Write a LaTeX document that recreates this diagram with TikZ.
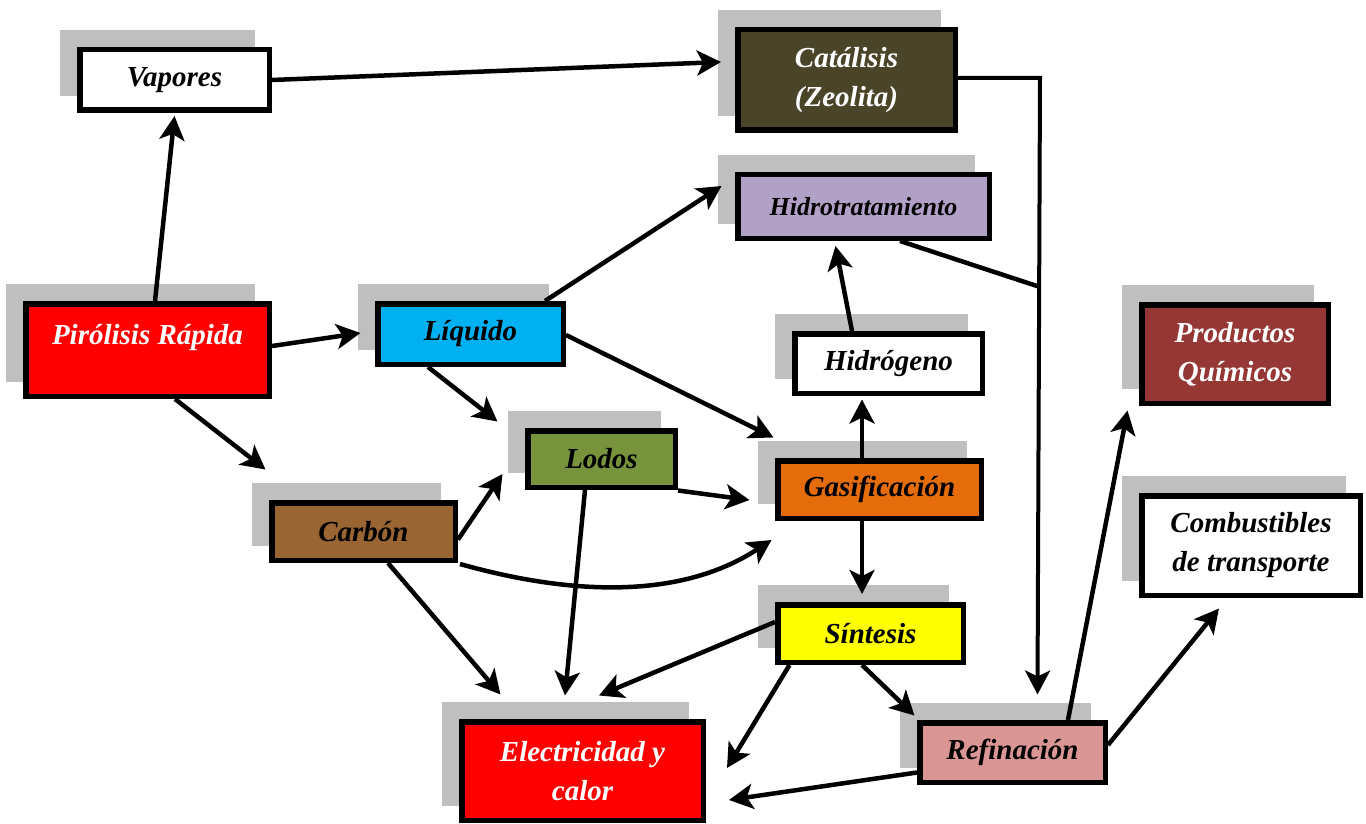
\documentclass[tikz,border=0pt]{standalone}
\usepackage{fontspec}
\setmainfont{Liberation Serif}
\usetikzlibrary{arrows.meta,calc}
\definecolor{shadowgray}{HTML}{BFBFBF}
\definecolor{catfill}{HTML}{4A4429}
\definecolor{hydfill}{HTML}{B2A1C7}
\definecolor{liqfill}{HTML}{00B0F0}
\definecolor{prodfill}{HTML}{953735}
\definecolor{lodfill}{HTML}{77933C}
\definecolor{gasfill}{HTML}{E46C0A}
\definecolor{carbfill}{HTML}{996633}
\definecolor{sinfill}{HTML}{FFFF00}
\definecolor{reffill}{HTML}{D99694}
\definecolor{redfill}{HTML}{FF0000}
\begin{document}
\begin{tikzpicture}[x=0.5pt,y=-0.5pt,
  box/.style={draw=black, line width=2.75pt, inner sep=0pt, align=center,
    font=\fontsize{14.5}{19.5}\selectfont\bfseries\itshape,
    preaction={draw=shadowgray, fill=shadowgray,
      transform canvas={shift={(-8.5pt,8.5pt)}}}},
  link/.style={line width=2.25pt, -{Stealth[length=12pt,width=12.5pt,inset=3pt]}},
]
\useasboundingbox (0,0) rectangle (1366,824);

% process boxes
\node[box, fill=white, minimum width=94.75pt, minimum height=30.25pt] (vap) at (174.5,80) {Vapores};
\node[box, fill=catfill, text=white, minimum width=108.75pt, minimum height=50.25pt] (cat) at (846.5,80) {Catálisis\\(Zeolita)};
\node[box, fill=hydfill, minimum width=125.75pt, minimum height=31.75pt,
  font=\fontsize{13}{16}\selectfont\bfseries\itshape] (hyd) at (863.5,206.5) {Hidrotratamiento};
\node[box, fill=redfill, text=white, minimum width=121.75pt, minimum height=46.25pt] (pir) at (147.5,350) {Pirólisis Rápida\\[-4pt]\mbox{}};
\node[box, fill=liqfill, minimum width=92.75pt, minimum height=30.25pt] (liq) at (470.5,334) {Líquido};
\node[box, fill=white, minimum width=93.75pt, minimum height=29.75pt] (hgn) at (888.5,363.5) {Hidrógeno};
\node[box, fill=prodfill, text=white, minimum width=93.25pt, minimum height=49.25pt] (prod) at (1235,354) {Productos\\Químicos};
\node[box, fill=lodfill, minimum width=73.75pt, minimum height=28.25pt] (lod) at (601.5,459) {Lodos};
\node[box, fill=gasfill, minimum width=101.75pt, minimum height=28.75pt] (gas) at (879.5,489.5) {Gasificación};
\node[box, fill=carbfill, minimum width=91.75pt, minimum height=28.75pt] (carb) at (363.5,531.5) {Carbón};
\node[box, fill=white, minimum width=109.25pt, minimum height=49.75pt] (comb) at (1251,545.5) {Combustibles\\de transporte};
\node[box, fill=sinfill, minimum width=92.75pt, minimum height=28.75pt] (sin) at (870.5,633.5) {Síntesis};
\node[box, fill=redfill, text=white, minimum width=120.75pt, minimum height=49.25pt] (elec) at (582.5,771) {Electricidad y\\calor};
\node[box, fill=reffill, minimum width=92.75pt, minimum height=29.75pt] (ref) at (1012.5,752.5) {Refinación};

% flows
\draw[link] ($(pir.north)+(7.5,0)$) -- ($(vap.south)+(0,3)$);
\draw[link] (vap.east) -- ($(cat.west)+(-14,-18)$);
\draw[link] ($(pir.east)+(0,-4)$) -- ($(liq.west)+(-14.5,-1)$);
\draw[link] ($(pir.south)+(27.5,0)$) -- ($(carb.north west)+(-3.5,-30.5)$);
\draw[link] ($(liq.north)+(74.5,0)$) -- ($(hyd.west)+(-13.5,-20.5)$);
\draw[link] ($(liq.east)+(0,1)$) -- ($(gas.north west)+(-1.5,-20.5)$);
\draw[link] ($(liq.south)+(-42.5,0)$) -- ($(lod.north west)+(-27.5,-6.5)$);
\draw[link] ($(carb.east)+(0,8)$) -- ($(lod.west)+(-22.5,15)$);
\draw[link] ($(carb.south east)+(2,1)$) .. controls (570,595) and (680,600) .. ($(gas.west)+(-3.5,50.5)$);
\draw[link] ($(carb.south)+(24.5,0)$) -- ($(elec.north west)+(41.5,-24.5)$);
\draw[link] ($(lod.south)+(-16.5,0)$) -- ($(elec.north)+(-17.5,-23.5)$);
\draw[link] ($(lod.south east)+(0,0.5)$) -- ($(gas.west)+(-25.5,10.5)$);
\draw[link] ($(sin.west)+(0,-11.5)$) -- ($(elec.north)+(16.5,-23.5)$);
\draw[link] ($(sin.south west)+(14.5,0)$) -- ($(elec.east)+(21,-3)$);
\draw[link] ($(sin.south)+(-8.5,0)$) -- ($(ref.north west)+(-2.5,-4.5)$);
\draw[link] ($(gas.south)+(-17.5,0)$) -- ($(sin.north)+(-8.5,-8)$);
\draw[link] ($(gas.north)+(-17.5,0)$) -- ($(hgn.south)+(-26.5,3.5)$);
\draw[link] ($(hgn.north)+(-36.5,0)$) -- ($(hyd.south)+(-28,5)$);

% catalytic route down to refining, joined by the hydrotreating line
\coordinate (bend) at ($(cat.east)+(82,-2)$);
\coordinate (join) at ($(bend)+(0,209)$);
\draw[link, line width=2pt] ($(cat.east)+(0,-2)$) -- (bend) -- ($(ref.north)+(25,-25.5)$);
\draw[line width=2.25pt] ($(hyd.south)+(36.5,0)$) -- (join);

\draw[link] ($(ref.south west)+(0,-12.5)$) -- ($(elec.east)+(23,29)$);
\draw[link] ($(ref.north)+(55.5,0)$) -- ($(prod.south west)+(-11.5,4.5)$);
\draw[link] ($(ref.east)+(0,-7.5)$) -- ($(comb.south)+(-32,10.5)$);
\end{tikzpicture}
\end{document}
